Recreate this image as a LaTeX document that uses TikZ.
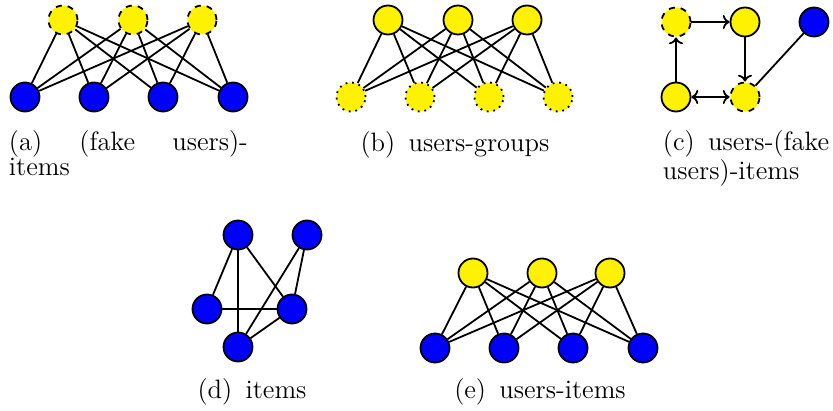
\documentclass[tikz,border=0pt]{standalone}
\usepackage{tikz}
\usetikzlibrary{arrows.meta}
\tikzset{>={To[width=7pt,length=3.4pt]}}

\begin{document}
\begin{tikzpicture}[x=0.5pt,y=-0.5pt,line width=0.9pt]
\tikzstyle{usr} = [circle,draw,fill=yellow,minimum size=14.5pt,inner sep=0pt]
\tikzstyle{fake} = [usr,dashed]
\tikzstyle{grp} = [usr,dash pattern=on 0.9pt off 2.4pt]
\tikzstyle{itm} = [usr,fill=blue]
\tikzstyle{capt} = [font=\fontsize{13.3}{12.5}\selectfont,inner sep=0pt,align=left]
\useasboundingbox (0,0) rectangle (833,411);
% (a) fake users - items
\node[fake] (af1) at (63,20) {};
\node[fake] (af2) at (133,20) {};
\node[fake] (af3) at (202,20) {};
\node[itm] (ai1) at (25,97) {};
\node[itm] (ai2) at (94,97) {};
\node[itm] (ai3) at (163,97) {};
\node[itm] (ai4) at (233,97) {};
\draw (af1) -- (ai1) (af1) -- (ai2) (af1) -- (ai3) (af1) -- (ai4);
\draw (af2) -- (ai1) (af2) -- (ai2) (af2) -- (ai3) (af2) -- (ai4);
\draw (af3) -- (ai1) (af3) -- (ai2) (af3) -- (ai3) (af3) -- (ai4);
\node[capt,anchor=north west] (acap) at (8,130) {\makebox[119.5pt][s]{(a) (fake users)-}\\items};
% (b) users - groups
\node[usr] (bu1) at (388,20) {};
\node[usr] (bu2) at (458,20) {};
\node[usr] (bu3) at (527,20) {};
\node[grp] (bg1) at (351,97) {};
\node[grp] (bg2) at (420,97) {};
\node[grp] (bg3) at (489,97) {};
\node[grp] (bg4) at (558,97) {};
\draw (bu1) -- (bg1) (bu1) -- (bg2) (bu1) -- (bg3) (bu1) -- (bg4);
\draw (bu2) -- (bg1) (bu2) -- (bg2) (bu2) -- (bg3) (bu2) -- (bg4);
\draw (bu3) -- (bg1) (bu3) -- (bg2) (bu3) -- (bg3) (bu3) -- (bg4);
\node[capt] (bcap) at (455,145) {(b)\enspace users-groups};
% (c) users - fake users - items
\node[fake] (cf1) at (676,22) {};
\node[usr] (cu1) at (745,22) {};
\node[itm] (ci1) at (814,22) {};
\node[usr] (cu2) at (676,97) {};
\node[fake] (cf2) at (745,97) {};
\draw[->] (cf1) -- (cu1);
\draw[->] (cu1) -- (cf2);
\draw[->] (cu2) -- (cf1);
\draw[<->] (cu2) -- (cf2);
\draw (cf2) -- (ci1);
\node[capt,anchor=north west] (ccap) at (662,130) {(c)\enspace users-(fake\\users)-items};
% (d) items
\node[itm] (di1) at (238,235) {};
\node[itm] (di2) at (307,235) {};
\node[itm] (di3) at (207,309) {};
\node[itm] (di4) at (292,309) {};
\node[itm] (di5) at (238,347) {};
\draw (di1) -- (di3);
\draw (di1) -- (di5);
\draw (di1) -- (di4);
\draw (di2) -- (di5);
\draw (di2) -- (di4);
\draw (di3) -- (di4);
\draw (di4) -- (di5);
\node[capt] (dcap) at (252,392) {(d)\enspace items};
% (e) users - items
\node[usr] (eu1) at (473,273) {};
\node[usr] (eu2) at (542,273) {};
\node[usr] (eu3) at (610,273) {};
\node[itm] (ei1) at (435,348) {};
\node[itm] (ei2) at (504,348) {};
\node[itm] (ei3) at (573,348) {};
\node[itm] (ei4) at (643,348) {};
\draw (eu1) -- (ei1) (eu1) -- (ei2) (eu1) -- (ei3) (eu1) -- (ei4);
\draw (eu2) -- (ei1) (eu2) -- (ei2) (eu2) -- (ei3) (eu2) -- (ei4);
\draw (eu3) -- (ei1) (eu3) -- (ei2) (eu3) -- (ei3) (eu3) -- (ei4);
\node[capt] (ecap) at (540,392) {(e)\enspace users-items};
\end{tikzpicture}
\end{document}
